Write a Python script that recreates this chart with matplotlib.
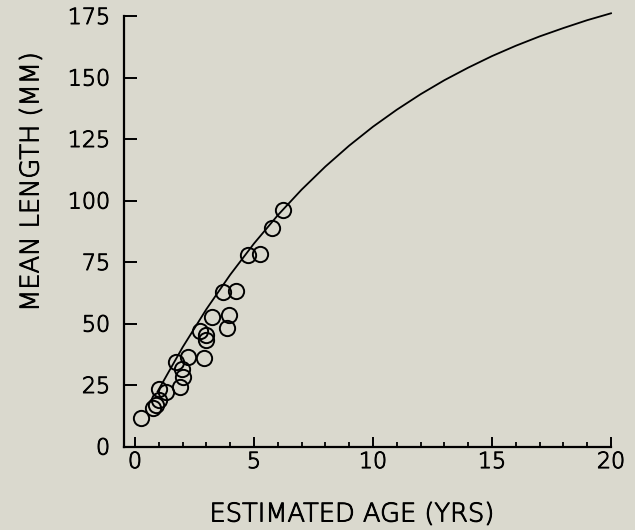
import matplotlib
matplotlib.use("Agg")
import matplotlib.pyplot as plt
import matplotlib.patheffects as pe
from matplotlib.ticker import MultipleLocator

# observed mean lengths by estimated age
age = [0.24, 0.74, 0.90, 1.00, 1.02, 1.30, 1.89, 1.72, 1.96, 2.00, 2.24, 2.90,
       2.73, 2.98, 2.98, 3.22, 3.96, 3.88, 3.72, 4.26, 4.76, 5.25, 5.74, 6.23]
length = [11.4, 15.5, 16.9, 18.9, 23.3, 22.3, 24.0, 34.5, 31.5, 28.4, 36.5, 35.9,
          47.1, 45.3, 43.3, 52.5, 53.5, 48.0, 62.9, 63.1, 77.8, 78.4, 88.8, 96.0]

# growth curve
curve_age = [0.95, 1, 2, 3, 4, 5, 6, 7, 8, 9, 10, 11, 12, 13, 14, 15, 16, 17, 18, 19, 20]
curve_len = [22.3, 23.2, 40.3, 55.8, 69.8, 82.5, 94.0, 104.4, 113.8, 122.3, 130.0,
             136.9, 143.2, 148.9, 154.0, 158.7, 162.9, 166.7, 170.1, 173.3, 176.1]

bg = '#dad9ce'
plt.rcParams['font.family'] = ['DejaVu Sans']
thin = [pe.withStroke(linewidth=0.7, foreground='black')]

fig = plt.figure(figsize=(6.35, 5.3), dpi=100, facecolor=bg)
ax = fig.add_axes([124/635, 1 - 446.5/530, 487/635, 430.5/530])
ax.set_facecolor(bg)

ax.plot(curve_age, curve_len, color='black', lw=1.3, clip_on=False)
ax.plot(age, length, 'o', mfc='none', mec='black', mew=1.4, ms=11)

ax.set_xlim(-0.46, 20)
ax.set_ylim(0, 175)
ax.xaxis.set_major_locator(MultipleLocator(5))
ax.xaxis.set_minor_locator(MultipleLocator(1))
ax.yaxis.set_major_locator(MultipleLocator(25))

for s in ['top', 'right']:
    ax.spines[s].set_visible(False)
for s in ['left', 'bottom']:
    ax.spines[s].set_linewidth(1.6)

ax.tick_params(axis='both', which='major', direction='in', width=1.4, labelsize=16, colors='black')
ax.tick_params(axis='y', which='major', length=9.5, pad=10)
ax.tick_params(axis='x', which='major', length=7.5, pad=4)
ax.tick_params(axis='x', which='minor', direction='in', length=3.5, width=1.3)
for lab in ax.get_xticklabels() + ax.get_yticklabels():
    lab.set_fontweight('light')
    lab.set_path_effects(thin)

fig.text(352/635, 1 - 514/530, 'ESTIMATED AGE (YRS)', ha='center', va='center',
         fontsize=18.5, fontweight='light', path_effects=thin)
fig.text(31/635, 1 - 182/530, 'MEAN LENGTH (MM)', ha='center', va='center',
         rotation=90, fontsize=18.5, fontweight='light', path_effects=thin)

fig.savefig('out.png', dpi=100, facecolor=bg)
